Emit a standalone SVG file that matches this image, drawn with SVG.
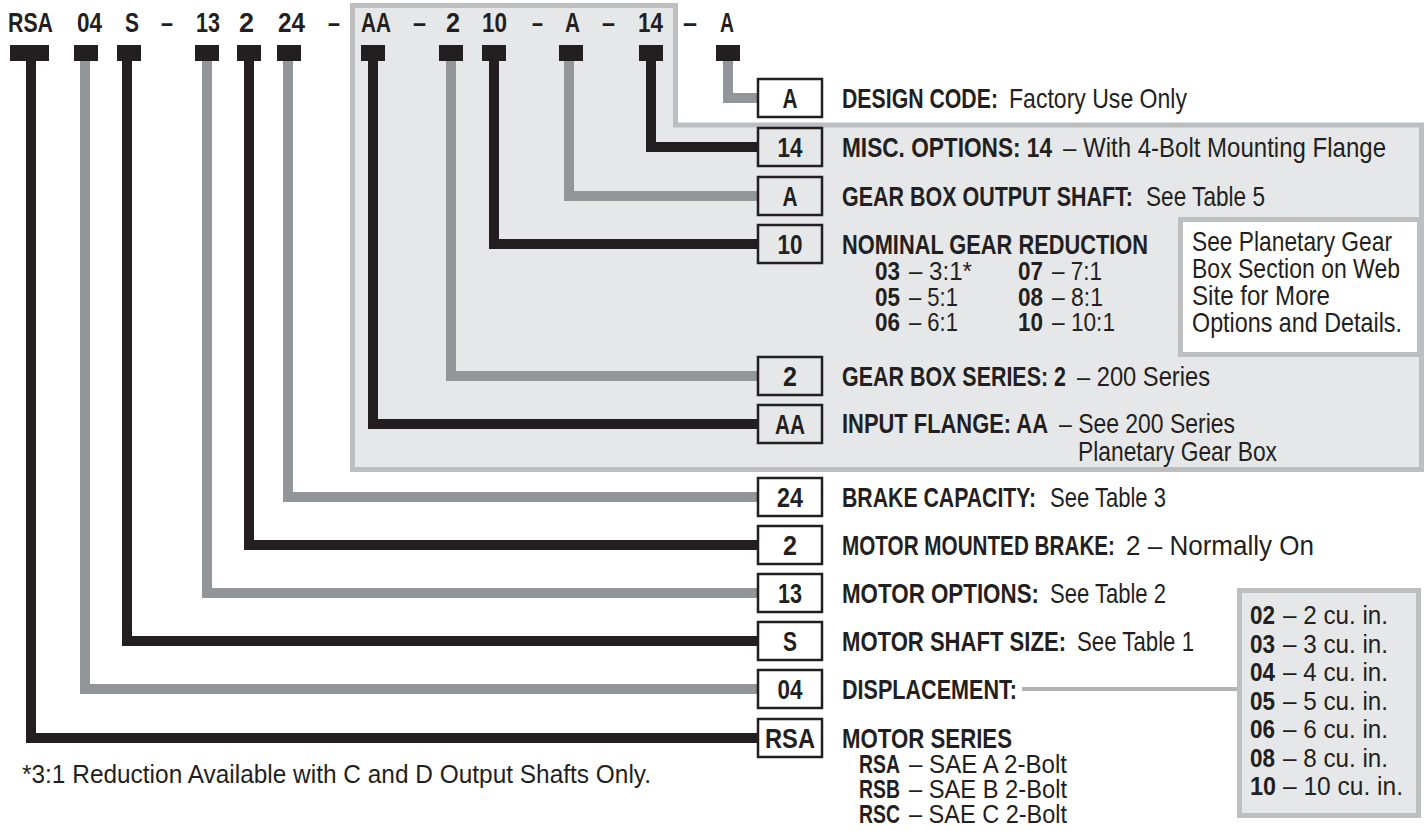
<svg xmlns="http://www.w3.org/2000/svg" width="1424" height="831" viewBox="0 0 1424 831">
<style>
text{fill:#231f20;font-family:"Liberation Sans",Arial,sans-serif}
.b{font-weight:bold;font-size:27px}
.r{font-weight:normal;font-size:27px}
.sb{font-weight:bold;font-size:25px}
.sr{font-weight:normal;font-size:25px}
.c{text-anchor:middle}
.k{stroke:#231f20;stroke-width:10;fill:none;stroke-linejoin:miter}
.g{stroke:#939598;stroke-width:10;fill:none;stroke-linejoin:miter}
.tab{fill:#231f20}
.box{fill:none;stroke:#231f20;stroke-width:2.5}
</style>
<rect width="1424" height="831" fill="#ffffff"/>
<path id="region" d="M352.5,5.5 H675.5 V125 H1421.5 V469.5 H352.5 Z" fill="#e6e7e8" stroke="#bcbec0" stroke-width="5"/>

<g id="code">
<text class="b" transform="translate(8 32) scale(.8 1)" textLength="56.25" lengthAdjust="spacingAndGlyphs">RSA</text>
<text class="b" transform="translate(77 32) scale(.8 1)" textLength="31.25" lengthAdjust="spacingAndGlyphs">04</text>
<text class="b" transform="translate(125 32) scale(.8 1)" textLength="17.5" lengthAdjust="spacingAndGlyphs">S</text>
<text class="b" transform="translate(161 32) scale(.8 1)" textLength="15" lengthAdjust="spacingAndGlyphs">–</text>
<text class="b" transform="translate(196 32) scale(.8 1)" textLength="30" lengthAdjust="spacingAndGlyphs">13</text>
<text class="b" transform="translate(239 32) scale(.8 1)" textLength="18.75" lengthAdjust="spacingAndGlyphs">2</text>
<text class="b" transform="translate(278 32) scale(.8 1)" textLength="33.75" lengthAdjust="spacingAndGlyphs">24</text>
<text class="b" transform="translate(328 32) scale(.8 1)" textLength="15" lengthAdjust="spacingAndGlyphs">–</text>
<text class="b" transform="translate(361 32) scale(.8 1)" textLength="37.5" lengthAdjust="spacingAndGlyphs">AA</text>
<text class="b" transform="translate(413 32) scale(.8 1)" textLength="16.25" lengthAdjust="spacingAndGlyphs">–</text>
<text class="b" transform="translate(446 32) scale(.8 1)" textLength="17.5" lengthAdjust="spacingAndGlyphs">2</text>
<text class="b" transform="translate(482 32) scale(.8 1)" textLength="31.25" lengthAdjust="spacingAndGlyphs">10</text>
<text class="b" transform="translate(532 32) scale(.8 1)" textLength="13.75" lengthAdjust="spacingAndGlyphs">–</text>
<text class="b" transform="translate(565 32) scale(.8 1)" textLength="18.75" lengthAdjust="spacingAndGlyphs">A</text>
<text class="b" transform="translate(602 32) scale(.8 1)" textLength="16.25" lengthAdjust="spacingAndGlyphs">–</text>
<text class="b" transform="translate(638 32) scale(.8 1)" textLength="31.25" lengthAdjust="spacingAndGlyphs">14</text>
<text class="b" transform="translate(683 32) scale(.8 1)" textLength="17.5" lengthAdjust="spacingAndGlyphs">–</text>
<text class="b" transform="translate(720 32) scale(.8 1)" textLength="17.5" lengthAdjust="spacingAndGlyphs">A</text>
</g>

<g id="connectors">
<path class="k" d="M31,61 V738 H757"/>
<path class="g" d="M85,61 V689 H757"/>
<path class="k" d="M127,61 V641 H757"/>
<path class="g" d="M207,61 V593 H757"/>
<path class="k" d="M249,61 V545 H757"/>
<path class="g" d="M288,61 V497 H757"/>
<path class="k" d="M373,61 V424 H757"/>
<path class="g" d="M451,61 V376 H757"/>
<path class="k" d="M494,61 V244 H757"/>
<path class="g" d="M569,61 V196 H757"/>
<path class="k" d="M651,61 V147 H757"/>
<path class="g" d="M728,61 V98 H757"/>
<line x1="1022" y1="689" x2="1238" y2="689" stroke="#b1b3b6" stroke-width="4"/>
</g>

<g id="tabs">
<rect class="tab" x="10" y="45" width="39" height="16"/>
<rect class="tab" x="74" y="45" width="24" height="16"/>
<rect class="tab" x="117" y="45" width="24" height="16"/>
<rect class="tab" x="195" y="45" width="24" height="16"/>
<rect class="tab" x="237" y="45" width="24" height="16"/>
<rect class="tab" x="277" y="45" width="24" height="16"/>
<rect class="tab" x="361" y="45" width="24" height="16"/>
<rect class="tab" x="439" y="45" width="24" height="16"/>
<rect class="tab" x="482" y="45" width="24" height="16"/>
<rect class="tab" x="559" y="45" width="24" height="16"/>
<rect class="tab" x="639" y="45" width="24" height="16"/>
<rect class="tab" x="716" y="45" width="24" height="16"/>
</g>

<g id="node-design-code">
<rect class="box" x="758" y="79" width="64" height="38" style="fill:#fff"/>
<text class="b c" transform="translate(790 107.5) scale(.8 1)" textLength="18.75" lengthAdjust="spacingAndGlyphs">A</text>
<text class="b" transform="translate(842 107.5) scale(.8 1)" textLength="195" lengthAdjust="spacingAndGlyphs">DESIGN CODE:</text>
<text class="r" transform="translate(1009 107.5) scale(.8 1)" textLength="222.5" lengthAdjust="spacingAndGlyphs">Factory Use Only</text>
</g>

<g id="node-misc">
<rect class="box" x="758" y="128" width="64" height="38"/>
<text class="b c" transform="translate(790 156.5) scale(.8 1)" textLength="31.25" lengthAdjust="spacingAndGlyphs">14</text>
<text class="b" transform="translate(842 156.5) scale(.8 1)" textLength="262.5" lengthAdjust="spacingAndGlyphs">MISC. OPTIONS: 14</text>
<text class="r" transform="translate(1063 156.5) scale(.8 1)" textLength="403.75" lengthAdjust="spacingAndGlyphs">– With 4-Bolt Mounting Flange</text>
</g>

<g id="node-output-shaft">
<rect class="box" x="758" y="177" width="64" height="38"/>
<text class="b c" transform="translate(790 205.5) scale(.8 1)" textLength="18.75" lengthAdjust="spacingAndGlyphs">A</text>
<text class="b" transform="translate(842 205.5) scale(.8 1)" textLength="363.75" lengthAdjust="spacingAndGlyphs">GEAR BOX OUTPUT SHAFT:</text>
<text class="r" transform="translate(1146 205.5) scale(.8 1)" textLength="148.75" lengthAdjust="spacingAndGlyphs">See Table 5</text>
</g>

<g id="node-reduction">
<rect class="box" x="758" y="225" width="64" height="38"/>
<text class="b c" transform="translate(790 253.5) scale(.8 1)" textLength="31.25" lengthAdjust="spacingAndGlyphs">10</text>
<text class="b" transform="translate(842 253.5) scale(.8 1)" textLength="382.5" lengthAdjust="spacingAndGlyphs">NOMINAL GEAR REDUCTION</text>
<text class="sb" transform="translate(875 280) scale(.8 1)" textLength="31.25" lengthAdjust="spacingAndGlyphs">03</text>
<text class="sr" transform="translate(909 280) scale(.8 1)" textLength="78.75" lengthAdjust="spacingAndGlyphs">– 3:1*</text>
<text class="sb" transform="translate(1018 280) scale(.8 1)" textLength="31.25" lengthAdjust="spacingAndGlyphs">07</text>
<text class="sr" transform="translate(1052 280) scale(.8 1)" textLength="62.5" lengthAdjust="spacingAndGlyphs">– 7:1</text>
<text class="sb" transform="translate(875 305.5) scale(.8 1)" textLength="31.25" lengthAdjust="spacingAndGlyphs">05</text>
<text class="sr" transform="translate(909 305.5) scale(.8 1)" textLength="61.25" lengthAdjust="spacingAndGlyphs">– 5:1</text>
<text class="sb" transform="translate(1018 305.5) scale(.8 1)" textLength="31.25" lengthAdjust="spacingAndGlyphs">08</text>
<text class="sr" transform="translate(1052 305.5) scale(.8 1)" textLength="63.75" lengthAdjust="spacingAndGlyphs">– 8:1</text>
<text class="sb" transform="translate(875 331) scale(.8 1)" textLength="31.25" lengthAdjust="spacingAndGlyphs">06</text>
<text class="sr" transform="translate(909 331) scale(.8 1)" textLength="61.25" lengthAdjust="spacingAndGlyphs">– 6:1</text>
<text class="sb" transform="translate(1018 331) scale(.8 1)" textLength="31.25" lengthAdjust="spacingAndGlyphs">10</text>
<text class="sr" transform="translate(1052 331) scale(.8 1)" textLength="78.75" lengthAdjust="spacingAndGlyphs">– 10:1</text>
</g>

<g id="note-planetary">
<rect x="1180.5" y="219.5" width="239" height="135" fill="#ffffff" stroke="#bcbec0" stroke-width="5"/>
<text class="r" transform="translate(1192 251) scale(.8 1)" textLength="250" lengthAdjust="spacingAndGlyphs">See Planetary Gear</text>
<text class="r" transform="translate(1192 278) scale(.8 1)" textLength="260" lengthAdjust="spacingAndGlyphs">Box Section on Web</text>
<text class="r" transform="translate(1192 305) scale(.8 1)" textLength="172.5" lengthAdjust="spacingAndGlyphs">Site for More</text>
<text class="r" transform="translate(1192 332) scale(.8 1)" textLength="262.5" lengthAdjust="spacingAndGlyphs">Options and Details.</text>
</g>

<g id="node-gearbox-series">
<rect class="box" x="758" y="357" width="64" height="38"/>
<text class="b c" transform="translate(790 385.5) scale(.8 1)" textLength="17.5" lengthAdjust="spacingAndGlyphs">2</text>
<text class="b" transform="translate(842 385.5) scale(.8 1)" textLength="280" lengthAdjust="spacingAndGlyphs">GEAR BOX SERIES: 2</text>
<text class="r" transform="translate(1077 385.5) scale(.8 1)" textLength="166.25" lengthAdjust="spacingAndGlyphs">– 200 Series</text>
</g>

<g id="node-input-flange">
<rect class="box" x="758" y="405" width="64" height="38"/>
<text class="b c" transform="translate(790 433.5) scale(.8 1)" textLength="37.5" lengthAdjust="spacingAndGlyphs">AA</text>
<text class="b" transform="translate(842 433) scale(.8 1)" textLength="257.5" lengthAdjust="spacingAndGlyphs">INPUT FLANGE: AA</text>
<text class="r" transform="translate(1059 433) scale(.8 1)" textLength="220" lengthAdjust="spacingAndGlyphs">– See 200 Series</text>
<text class="r" transform="translate(1078 461) scale(.8 1)" textLength="248.75" lengthAdjust="spacingAndGlyphs">Planetary Gear Box</text>
</g>

<g id="node-brake-capacity">
<rect class="box" x="758" y="478" width="64" height="38"/>
<text class="b c" transform="translate(790 506.5) scale(.8 1)" textLength="32.5" lengthAdjust="spacingAndGlyphs">24</text>
<text class="b" transform="translate(842 506.5) scale(.8 1)" textLength="242.5" lengthAdjust="spacingAndGlyphs">BRAKE CAPACITY:</text>
<text class="r" transform="translate(1050 506.5) scale(.8 1)" textLength="145" lengthAdjust="spacingAndGlyphs">See Table 3</text>
</g>

<g id="node-mounted-brake">
<rect class="box" x="758" y="526" width="64" height="38"/>
<text class="b c" transform="translate(790 554.5) scale(.8 1)" textLength="17.5" lengthAdjust="spacingAndGlyphs">2</text>
<text class="b" transform="translate(842 554.5) scale(.8 1)" textLength="341.25" lengthAdjust="spacingAndGlyphs">MOTOR MOUNTED BRAKE:</text>
<text class="r" transform="translate(1126 554.5) scale(.8 1)" textLength="235" lengthAdjust="spacingAndGlyphs">2 – Normally On</text>
</g>

<g id="node-motor-options">
<rect class="box" x="758" y="574" width="64" height="38"/>
<text class="b c" transform="translate(790 602.5) scale(.8 1)" textLength="30" lengthAdjust="spacingAndGlyphs">13</text>
<text class="b" transform="translate(842 602.5) scale(.8 1)" textLength="246.25" lengthAdjust="spacingAndGlyphs">MOTOR OPTIONS:</text>
<text class="r" transform="translate(1050 602.5) scale(.8 1)" textLength="145" lengthAdjust="spacingAndGlyphs">See Table 2</text>
</g>

<g id="node-shaft-size">
<rect class="box" x="758" y="622" width="64" height="38"/>
<text class="b c" transform="translate(790 650.5) scale(.8 1)" textLength="17.5" lengthAdjust="spacingAndGlyphs">S</text>
<text class="b" transform="translate(842 650.5) scale(.8 1)" textLength="280" lengthAdjust="spacingAndGlyphs">MOTOR SHAFT SIZE:</text>
<text class="r" transform="translate(1077 650.5) scale(.8 1)" textLength="146.25" lengthAdjust="spacingAndGlyphs">See Table 1</text>
</g>

<g id="node-displacement">
<rect class="box" x="758" y="670" width="64" height="38"/>
<text class="b c" transform="translate(790 698.5) scale(.8 1)" textLength="31.25" lengthAdjust="spacingAndGlyphs">04</text>
<text class="b" transform="translate(842 698.5) scale(.8 1)" textLength="218.75" lengthAdjust="spacingAndGlyphs">DISPLACEMENT:</text>
</g>

<g id="displacement-list">
<rect x="1239.5" y="590.5" width="179" height="225" fill="#e6e7e8" stroke="#bcbec0" stroke-width="5"/>
<text class="sb" transform="translate(1250 624) scale(.8 1)" textLength="31.25" lengthAdjust="spacingAndGlyphs">02</text>
<text class="sr" transform="translate(1283 624) scale(.8 1)" textLength="131.25" lengthAdjust="spacingAndGlyphs">– 2 cu. in.</text>
<text class="sb" transform="translate(1250 652.5) scale(.8 1)" textLength="31.25" lengthAdjust="spacingAndGlyphs">03</text>
<text class="sr" transform="translate(1283 652.5) scale(.8 1)" textLength="131.25" lengthAdjust="spacingAndGlyphs">– 3 cu. in.</text>
<text class="sb" transform="translate(1250 681) scale(.8 1)" textLength="31.25" lengthAdjust="spacingAndGlyphs">04</text>
<text class="sr" transform="translate(1283 681) scale(.8 1)" textLength="131.25" lengthAdjust="spacingAndGlyphs">– 4 cu. in.</text>
<text class="sb" transform="translate(1250 709.5) scale(.8 1)" textLength="31.25" lengthAdjust="spacingAndGlyphs">05</text>
<text class="sr" transform="translate(1283 709.5) scale(.8 1)" textLength="131.25" lengthAdjust="spacingAndGlyphs">– 5 cu. in.</text>
<text class="sb" transform="translate(1250 738) scale(.8 1)" textLength="31.25" lengthAdjust="spacingAndGlyphs">06</text>
<text class="sr" transform="translate(1283 738) scale(.8 1)" textLength="131.25" lengthAdjust="spacingAndGlyphs">– 6 cu. in.</text>
<text class="sb" transform="translate(1250 766.5) scale(.8 1)" textLength="31.25" lengthAdjust="spacingAndGlyphs">08</text>
<text class="sr" transform="translate(1283 766.5) scale(.8 1)" textLength="131.25" lengthAdjust="spacingAndGlyphs">– 8 cu. in.</text>
<text class="sb" transform="translate(1250 795) scale(.8 1)" textLength="32.5" lengthAdjust="spacingAndGlyphs">10</text>
<text class="sr" transform="translate(1283 795) scale(.8 1)" textLength="150" lengthAdjust="spacingAndGlyphs">– 10 cu. in.</text>
</g>

<g id="node-motor-series">
<rect class="box" x="758" y="719" width="64" height="38"/>
<text class="b c" transform="translate(790 747.5) scale(.8 1)" textLength="62.5" lengthAdjust="spacingAndGlyphs">RSA</text>
<text class="b" transform="translate(842 747.5) scale(.8 1)" textLength="212.5" lengthAdjust="spacingAndGlyphs">MOTOR SERIES</text>
<text class="sb" transform="translate(859 773) scale(.8 1)" textLength="51.25" lengthAdjust="spacingAndGlyphs">RSA</text>
<text class="sr" transform="translate(909 773) scale(.8 1)" textLength="197.5" lengthAdjust="spacingAndGlyphs">– SAE A 2-Bolt</text>
<text class="sb" transform="translate(859 798) scale(.8 1)" textLength="51.25" lengthAdjust="spacingAndGlyphs">RSB</text>
<text class="sr" transform="translate(909 798) scale(.8 1)" textLength="197.5" lengthAdjust="spacingAndGlyphs">– SAE B 2-Bolt</text>
<text class="sb" transform="translate(859 823) scale(.8 1)" textLength="51.25" lengthAdjust="spacingAndGlyphs">RSC</text>
<text class="sr" transform="translate(909 823) scale(.8 1)" textLength="197.5" lengthAdjust="spacingAndGlyphs">– SAE C 2-Bolt</text>
</g>

<text id="footnote" class="sr" transform="translate(22 783) scale(.8 1)" textLength="786.25" lengthAdjust="spacingAndGlyphs">*3:1 Reduction Available with C and D Output Shafts Only.</text>
</svg>
